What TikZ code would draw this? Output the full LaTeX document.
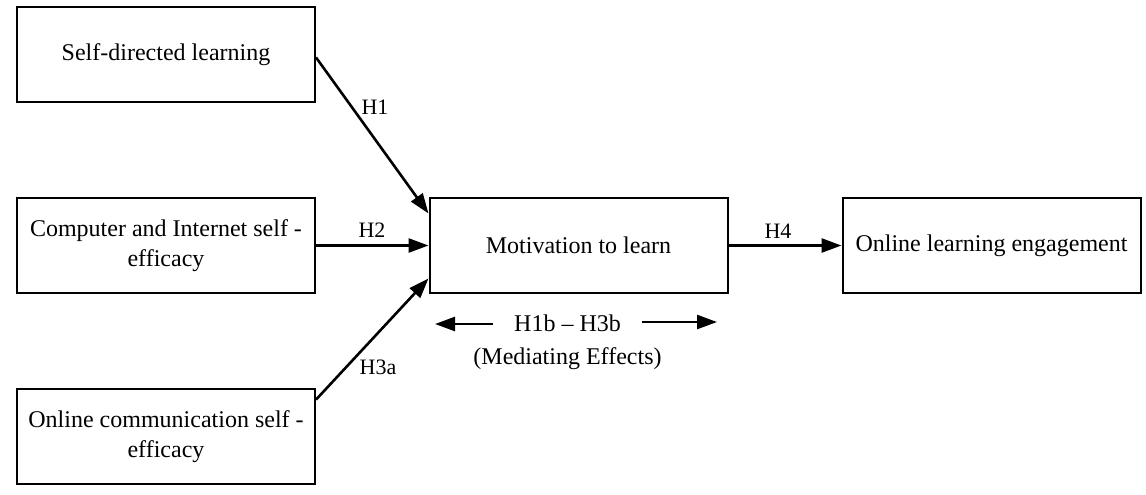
\documentclass[tikz,border=0pt]{standalone}
\usepackage{fontspec}
\setmainfont{Liberation Serif}
\usetikzlibrary{arrows.meta,calc}
\tikzset{
  box/.style={draw=black, line width=1pt, minimum width=149pt, minimum height=47.5pt,
    align=center, inner sep=2pt, font=\fontsize{12}{15}\selectfont},
  hlabel/.style={font=\fontsize{11}{13}\selectfont, inner sep=0pt},
  conn/.style={line width=1.3pt, -{Triangle[length=10pt,width=7pt]}},
  medtext/.style={font=\fontsize{12}{14}\selectfont, inner sep=0pt}
}
\begin{document}
\begin{tikzpicture}[x=0.5pt,y=-0.5pt]
\useasboundingbox (0,0) rectangle (1146,494);
\fill[white] (0,0) rectangle (1146,494);
% boxes
\node[box] (b1) at (166,54.5) {Self-directed learning};
\node[box] (b2) at (166,245.5) {Computer and Internet self -\\efficacy};
\node[box] (b3) at (166,436.5) {Online communication self -\\efficacy};
\node[box] (mot) at (578.5,245.5) {Motivation to learn};
\node[box] (eng) at (991.5,245.5) {Online learning engagement};
% connectors
\draw[conn] ($(b1.north east)!0.53!(b1.south east)$) -- ($(mot.north west)!0.17!(mot.south west)$);
\draw[conn] (b2.east) -- (mot.west);
\draw[conn] ($(b3.north east)!0.12!(b3.south east)$) -- ($(mot.north west)!0.84!(mot.south west)$);
\draw[conn] (mot.east) -- (eng.west);
% labels
\node[hlabel] (h1) at (375,107) {H1};
\node[hlabel] (h2) at (372,230) {H2};
\node[hlabel] (h3) at (378,367) {H3a};
\node[hlabel] (h4) at (778,231) {H4};
% mediating effects
\node[medtext, inner xsep=10.5pt] (med) at (567.5,323) {H1b – H3b};
\node[medtext] (medl) at (567.5,359) {(Mediating Effects)};
\coordinate (ml) at (435,324);
\coordinate (mr) at (717,322);
\draw[conn] (med.west |- ml) -- (ml);
\draw[conn] (med.east |- mr) -- (mr);
\end{tikzpicture}
\end{document}
